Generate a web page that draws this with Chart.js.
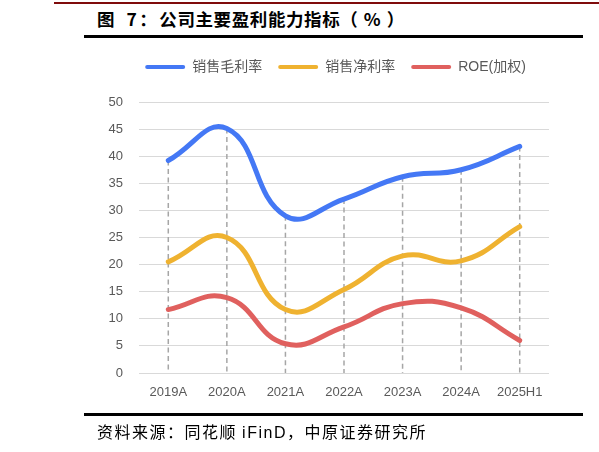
<!DOCTYPE html>
<html>
<head>
<meta charset="utf-8">
<script src="https://cdn.jsdelivr.net/npm/chart.js@4.4.1/dist/chart.umd.min.js"></script>
<style>
	html, body { margin: 0; padding: 0; background: #fff; }
	#page { position: relative; width: 599px; height: 452px; overflow: hidden; }
	#chart-wrap { position: absolute; left: 0; top: 0; width: 599px; height: 452px; }
	.rule { position: absolute; }
	#top-rule { left: 54px; top: 2px; width: 545px; height: 2px; background: #7f0c0c; }
	#title-rule { left: 84px; top: 35px; width: 499px; height: 3px; background: #000; }
	#bottom-rule { left: 84px; top: 413px; width: 499px; height: 3px; background: #000; }
	#title {
		position: absolute; left: 97px; top: 6px; white-space: nowrap;
		font: bold 17.5px "Noto Sans CJK SC", sans-serif; letter-spacing: 0.6px; word-spacing: 3px; color: #000;
	}
	#title .lead { letter-spacing: 2.5px; }
	#title .unit { letter-spacing: 6px; }
	#source {
		position: absolute; left: 97px; top: 419px; white-space: nowrap;
		font: 16px "Noto Sans CJK SC", sans-serif; letter-spacing: 1.5px; color: #000;
	}
	#source .latin { font-family: "Liberation Sans", sans-serif; }
</style>
</head>
<body>
<div id="page">
	<div class="rule" id="top-rule"></div>
	<div id="title"><span class="lead">图 7：</span>公司主要盈利能力指标<span class="unit">（%</span>）</div>
	<div class="rule" id="title-rule"></div>
	<div id="chart-wrap"><canvas id="profit-chart"></canvas></div>
	<div class="rule" id="bottom-rule"></div>
	<div id="source">资料来源：同花顺 <span class="latin">iFinD</span>，中原证券研究所</div>
</div>
<script>
	'use strict';

	// Data.
	const categories = ['2019A', '2020A', '2021A', '2022A', '2023A', '2024A', '2025H1'];
	const grossMargin = [39.2, 45.1, 29.0, 32.1, 36.2, 37.5, 41.8];
	const netMargin = [20.5, 25.0, 11.7, 15.4, 21.6, 20.7, 27.0];
	const roeWeighted = [11.7, 13.9, 5.4, 8.5, 12.8, 12.0, 6.0];
	const seriesNames = ['销售毛利率', '销售净利率', 'ROE(加权)'];

	const colors = {
		blue: '#4478f5',
		yellow: '#efb230',
		red: '#e0605e',
		tick: '#595959',
		grid: '#d9d9d9',
		drop: '#a6a6a6'
	};

	/**
	 * Gray dashed drop lines from the highest point of each category down to the axis.
	 */
	const dropLines = {
		id: 'dropLines',
		beforeDatasetsDraw: function(chart) {
			const ctx = chart.ctx;
			const xScale = chart.scales.x;
			const yScale = chart.scales.y;
			ctx.save();
			ctx.strokeStyle = colors.drop;
			ctx.lineWidth = 1.5;
			ctx.setLineDash([5, 3.5]);
			categories.forEach(function(cat, i) {
				const top = Math.max(grossMargin[i], netMargin[i], roeWeighted[i]);
				const x = xScale.getPixelForValue(i);
				ctx.beginPath();
				ctx.moveTo(x, yScale.getPixelForValue(top));
				ctx.lineTo(x, yScale.getPixelForValue(0));
				ctx.stroke();
			});
			ctx.restore();
		}
	};

	// Fix legend height so the plot area starts where the reference's does,
	// and centre the legend over the plot rather than the whole canvas.
	const legendPlace = {
		id: 'legendPlace',
		beforeInit: function(chart) {
			const origFit = chart.legend.fit;
			chart.legend.fit = function() {
				origFit.bind(chart.legend)();
				this.height = 58;
			};
		},
		afterLayout: function(chart) {
			chart.legend.left = 122;
		}
	};

	function lineSet(label, data, color) {
		return {
			label: label,
			data: data,
			borderColor: color,
			backgroundColor: color,
			borderWidth: 5,
			pointRadius: 0,
			pointHoverRadius: 0,
			borderCapStyle: 'round',
			borderJoinStyle: 'round',
			tension: 0.45,
			fill: false
		};
	}

	const ctx = document.getElementById('profit-chart').getContext('2d');
	new Chart(ctx, {
		type: 'line',
		data: {
			labels: categories,
			datasets: [
				lineSet(seriesNames[0], grossMargin, colors.blue),
				lineSet(seriesNames[1], netMargin, colors.yellow),
				lineSet(seriesNames[2], roeWeighted, colors.red)
			]
		},
		options: {
			responsive: true,
			maintainAspectRatio: false,
			animation: false,
			layout: {
				padding: { left: 0, right: 50, top: 44, bottom: 54 }
			},
			plugins: {
				legend: {
					display: true,
					position: 'top',
					labels: {
						boxWidth: 40,
						boxHeight: 4,
						padding: 16,
						color: colors.tick,
						font: { family: '"Liberation Sans", "Noto Sans CJK SC", sans-serif', size: 14 },
						generateLabels: function(chart) {
							const items = Chart.defaults.plugins.legend.labels.generateLabels(chart);
							items.forEach(function(item) {
								item.lineWidth = 0;
								item.fillStyle = item.strokeStyle;
								item.borderRadius = 2;
							});
							return items;
						},
						useBorderRadius: true,
						borderRadius: 2
					}
				},
				tooltip: { enabled: false }
			},
			scales: {
				x: {
					offset: true,
					grid: { display: false, drawTicks: false },
					border: { display: false },
					ticks: {
						color: colors.tick,
						padding: 12,
						maxRotation: 0,
						font: { family: '"Liberation Sans", sans-serif', size: 13 }
					},
					afterFit: function(scale) { scale.height = 25; }
				},
				y: {
					min: 0,
					max: 50,
					grid: { color: colors.grid, lineWidth: 1, drawTicks: false },
					border: { display: false },
					ticks: {
						stepSize: 5,
						color: colors.tick,
						padding: 16,
						font: { family: '"Liberation Sans", sans-serif', size: 13 }
					},
					afterFit: function(scale) { scale.width = 139; }
				}
			}
		},
		plugins: [dropLines, legendPlace]
	});
</script>
</body>
</html>
